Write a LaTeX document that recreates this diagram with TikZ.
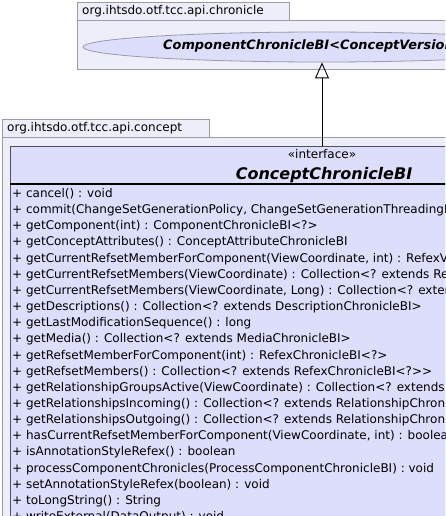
\documentclass[tikz,border=0pt]{standalone}
\usepackage{fontspec}
\setmainfont{DejaVu Sans}
\usetikzlibrary{shapes.geometric,arrows.meta}
\definecolor{pkgfill}{HTML}{EEEEFA}
\definecolor{pkgline}{HTML}{9A9AAA}
\definecolor{clsfill}{HTML}{DDDDFC}
\definecolor{clsline}{HTML}{505060}
\tikzset{
  pkgbox/.style={draw=pkgline, fill=pkgfill, line width=0.8pt},
  pkglabel/.style={anchor=west, inner sep=0pt, font=\fontsize{12}{14}\selectfont},
  clsbox/.style={draw=clsline, fill=clsfill, line width=0.8pt},
  method/.style={anchor=base west, inner sep=0pt, font=\fontsize{12}{14}\selectfont},
  ifacebox/.style={ellipse, draw=pkgline, fill=clsfill, line width=0.8pt, minimum width=478pt, minimum height=30pt, inner sep=0pt},
}
\begin{document}
\begin{tikzpicture}[x=1pt,y=-1pt]
\useasboundingbox (0,0) rectangle (445,516);
\clip (0,0) rectangle (445,516);
% chronicle package
\node[pkgbox, anchor=north west, minimum width=212pt, minimum height=18pt, inner sep=0pt] (tab1) at (77,2) {};
\node[pkgbox, anchor=north west, minimum width=500pt, minimum height=49pt, inner sep=0pt] (pkg1) at (77,20) {};
\node[pkglabel] (tab1text) at (82,11.5) {org.ihtsdo.otf.tcc.api.chronicle};
\node[ifacebox] (iface) at (322,47) {};
\node[anchor=west, font=\fontsize{12.9}{15}\selectfont\bfseries\itshape, inner sep=0pt] (ifacetext) at (163,46) {ComponentChronicleBI<ConceptVersionBI>};
% concept package
\node[pkgbox, anchor=north west, minimum width=207pt, minimum height=18pt, inner sep=0pt] (tab2) at (2,119) {};
\node[pkgbox, anchor=north west, minimum width=500pt, minimum height=420pt, inner sep=0pt] (pkg2) at (2,137) {};
\node[pkglabel] (tab2text) at (7,128.5) {org.ihtsdo.otf.tcc.api.concept};
% class box
\node[clsbox, anchor=north west, minimum width=624pt, minimum height=400pt, inner sep=0pt] (cls) at (10,146) {};
\coordinate (clstop) at (322,146);
\node[font=\fontsize{12}{14}\selectfont, inner sep=0pt] (stereo) at (322,154) {«interface»};
\node[font=\fontsize{16}{18}\selectfont\bfseries\itshape, inner sep=0pt] (clsname) at (324,175) {ConceptChronicleBI};
\coordinate (sepL) at (10,184);
\coordinate (sepR) at (634,184);
\draw[line width=2pt, black] (sepL) -- (sepR);
% methods
\foreach \t [count=\i] in {
 {+ cancel() : void},
 {+ commit(ChangeSetGenerationPolicy, ChangeSetGenerationThreadingPolicy) : void},
 {+ getComponent(int) : ComponentChronicleBI<?>},
 {+ getConceptAttributes() : ConceptAttributeChronicleBI},
 {+ getCurrentRefsetMemberForComponent(ViewCoordinate, int) : RefexVersionBI<?>},
 {+ getCurrentRefsetMembers(ViewCoordinate) : Collection<? extends RefexVersionBI<?>{}>},
 {+ getCurrentRefsetMembers(ViewCoordinate, Long) : Collection<? extends RefexVersionBI<?>{}>},
 {+ getDescriptions() : Collection<? extends DescriptionChronicleBI>},
 {+ getLastModificationSequence() : long},
 {+ getMedia() : Collection<? extends MediaChronicleBI>},
 {+ getRefsetMemberForComponent(int) : RefexChronicleBI<?>},
 {+ getRefsetMembers() : Collection<? extends RefexChronicleBI<?>{}>},
 {+ getRelationshipGroupsActive(ViewCoordinate) : Collection<? extends RelationshipGroupVersionBI>},
 {+ getRelationshipsIncoming() : Collection<? extends RelationshipChronicleBI>},
 {+ getRelationshipsOutgoing() : Collection<? extends RelationshipChronicleBI>},
 {+ hasCurrentRefsetMemberForComponent(ViewCoordinate, int) : boolean},
 {+ isAnnotationStyleRefex() : boolean},
 {+ processComponentChronicles(ProcessComponentChronicleBI) : void},
 {+ setAnnotationStyleRefex(boolean) : void},
 {+ toLongString() : String},
 {+ writeExternal(DataOutput) : void}}
{
  \node[method] (m\i) at (12,{197.5+(\i-1)*16.15}) {\t};
}
% generalization arrow
\draw[-{Triangle[open, length=16pt, width=14pt]}, line width=0.9pt, black] (clstop) -- (iface.south);
\end{tikzpicture}
\end{document}
